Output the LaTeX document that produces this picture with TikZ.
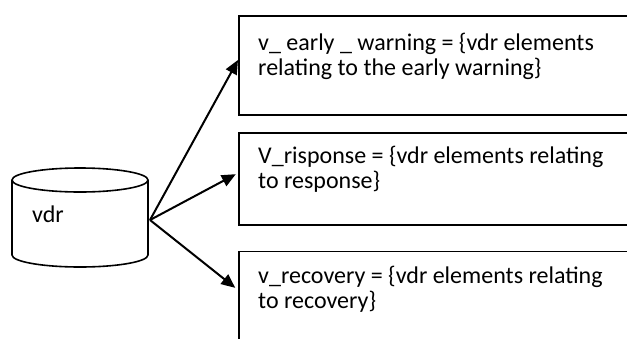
\documentclass[tikz,border=0pt]{standalone}
\usepackage{fontspec}
\setmainfont{Carlito}
\usetikzlibrary{arrows.meta}
\begin{document}
\begin{tikzpicture}[x=1pt,y=-1pt,
  box/.style={draw, line width=1.6pt, anchor=north west, inner sep=0pt, minimum width=400pt},
  txt/.style={anchor=base west, inner sep=0pt, align=left, font=\fontsize{24}{25}\selectfont},
  arr/.style={line width=2pt, -{Triangle[length=14pt,width=12pt]}},
  drum/.style={line width=1.6pt}]
\useasboundingbox (0,0) rectangle (627,338);
\clip (0,0) rectangle (627,338);

% data store drawn as a cylinder
\draw[drum] (80,180) ellipse [x radius=68, y radius=12];
\draw[drum] (12,180) -- (12,255) arc [start angle=180, end angle=0, x radius=68, y radius=12] -- (148,180);
\node[txt] (vdr) at (32,222) {vdr};
\coordinate (src) at (150,220);

% subset boxes (open to the right)
\node[box, minimum height=99pt] (b1) at (238,15) {};
\node[box, minimum height=92pt] (b2) at (238,132) {};
\node[box, minimum height=120pt] (b3) at (238,250.5) {};

% the base anchor of a two-line node sits on its last line
\node[txt] (t1) at (258,75) {v\_ early \_ warning = \{vdr elements\\relating to the early warning\}};
\node[txt] (t2) at (258,188) {V\_risponse = \{vdr elements relating\\to response\}};
\node[txt] (t3) at (258,308) {v\_recovery = \{vdr elements relating\\to recovery\}};

% connectors
\draw[arr] (src) -- (b1.west |- 0,60);
\draw[arr, shorten >=2.5pt] (src) -- (b2.west |- 0,173);
\draw[arr, shorten >=3.5pt] (src) -- (b3.west |- 0,290);
\end{tikzpicture}
\end{document}
